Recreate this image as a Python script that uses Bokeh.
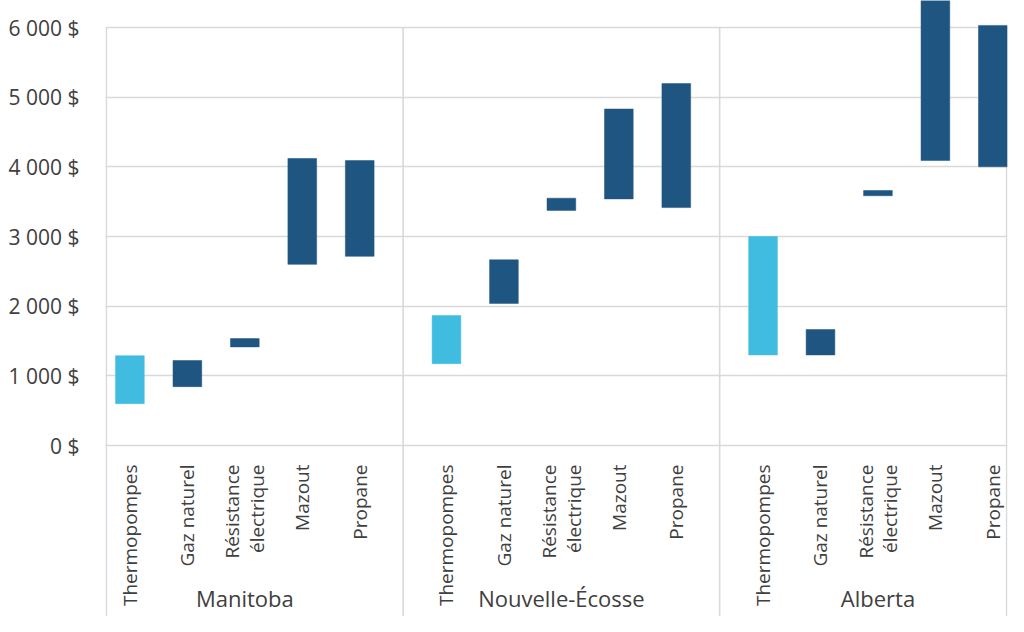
import math
from bokeh.plotting import figure
from bokeh.models import Range1d, FixedTicker, ColumnDataSource
from bokeh.core.properties import value
from bokeh.embed import file_html
from bokeh.resources import INLINE

# ---------------- data ----------------
provinces = ["Manitoba", "Nouvelle-Écosse", "Alberta"]
sources = ["Thermopompes", "Gaz naturel", "Résistance\nélectrique", "Mazout", "Propane"]

low_manitoba = [600, 845, 1415, 2600, 2715]
high_manitoba = [1290, 1220, 1535, 4120, 4090]
low_nouvelle_ecosse = [1175, 2040, 3375, 3540, 3415]
high_nouvelle_ecosse = [1865, 2665, 3550, 4830, 5195]
low_alberta = [1300, 1300, 3585, 4090, 4000]
high_alberta = [3000, 1665, 3660, 6450, 6030]

y_ticks = [0, 1000, 2000, 3000, 4000, 5000, 6000]
y_tick_labels = ["0 $", "1 000 $", "2 000 $", "3 000 $", "4 000 $", "5 000 $", "6 000 $"]

# ---------------- styling / layout ----------------
LIGHT = "#41BCE1"
DARK = "#1F5581"
GRID = "#D9D9D9"
TEXT = "#404040"
FONT = "Open Sans"

GAP = 0.51                # extra space between provinces (category units)
STEP = len(sources) + GAP
EDGE_L = -0.41
EDGE_R = (len(provinces) - 1) * STEP + (len(sources) - 1) + 0.24
BAR_W = 0.5

W, H = 1008, 616
BORDER_L, BORDER_R = 105, 1
PX_ZERO, PX_TOP_TICK = 445, 27      # pixel rows of 0 and 6000
UPP = y_ticks[-1] / (PX_ZERO - PX_TOP_TICK)   # data units per pixel
Y_MAX = y_ticks[-1] + PX_TOP_TICK * UPP
Y_MIN = -(H - PX_ZERO) * UPP
CAT_Y = -(464 - PX_ZERO) * UPP
GROUP_Y = -(597 - PX_ZERO) * UPP

lows = [low_manitoba, low_nouvelle_ecosse, low_alberta]
highs = [high_manitoba, high_nouvelle_ecosse, high_alberta]

xs, bottoms, tops, colors, labels = [], [], [], [], []
for g, prov in enumerate(provinces):
    for i, src in enumerate(sources):
        xs.append(g * STEP + i)
        bottoms.append(lows[g][i])
        tops.append(highs[g][i])
        colors.append(LIGHT if i == 0 else DARK)
        labels.append(src)

bars = ColumnDataSource(dict(x=xs, bottom=bottoms, top=tops, color=colors, label=labels))

p = figure(width=W, height=H, output_backend="svg", toolbar_location=None,
           x_range=Range1d(EDGE_L - 0.015, EDGE_R + 0.015),
           y_range=Range1d(Y_MIN, Y_MAX),
           x_axis_type=None,
           min_border_left=BORDER_L, min_border_right=BORDER_R,
           min_border_top=0, min_border_bottom=0)
p.outline_line_color = None
p.background_fill_color = "white"
p.border_fill_color = "white"

# grid
p.xgrid.visible = False
p.ygrid.ticker = FixedTicker(ticks=y_ticks)
p.ygrid.grid_line_color = GRID
p.ygrid.grid_line_width = 1.6

# y axis
p.yaxis.ticker = FixedTicker(ticks=y_ticks)
p.yaxis.major_label_overrides = {t: l for t, l in zip(y_ticks, y_tick_labels)}
p.yaxis.axis_line_color = None
p.yaxis.major_tick_line_color = None
p.yaxis.minor_tick_line_color = None
p.yaxis.major_label_text_font = FONT
p.yaxis.major_label_text_font_size = "21px"
p.yaxis.major_label_text_color = TEXT
p.yaxis.major_label_standoff = 20

# vertical separators (edges and between provinces)
sep_x = [EDGE_L] + [g * STEP - 0.5 - GAP / 2 for g in range(1, len(provinces))] + [EDGE_R]
p.segment(x0=sep_x, y0=[y_ticks[-1]] * len(sep_x), x1=sep_x, y1=[Y_MIN] * len(sep_x),
          line_color=GRID, line_width=1.6)

# floating bars
p.vbar(x="x", bottom="bottom", top="top", width=BAR_W, fill_color="color",
       line_color="color", line_width=0.5, source=bars)

# category labels (rotated)
p.text(x="x", y=CAT_Y, text="label", source=bars, angle=math.pi / 2,
       text_align="right", text_baseline="middle",
       text_font=value(FONT), text_font_size="19px", text_color=TEXT,
       text_line_height=0.95)

# province labels
p.text(x=[g * STEP + (len(sources) - 1) / 2 for g in range(len(provinces))],
       y=[GROUP_Y] * len(provinces), text=provinces,
       text_align="center", text_baseline="middle",
       text_font=value(FONT), text_font_size="22px", text_color=TEXT)

open("out.html", "w").write(file_html(p, INLINE))
